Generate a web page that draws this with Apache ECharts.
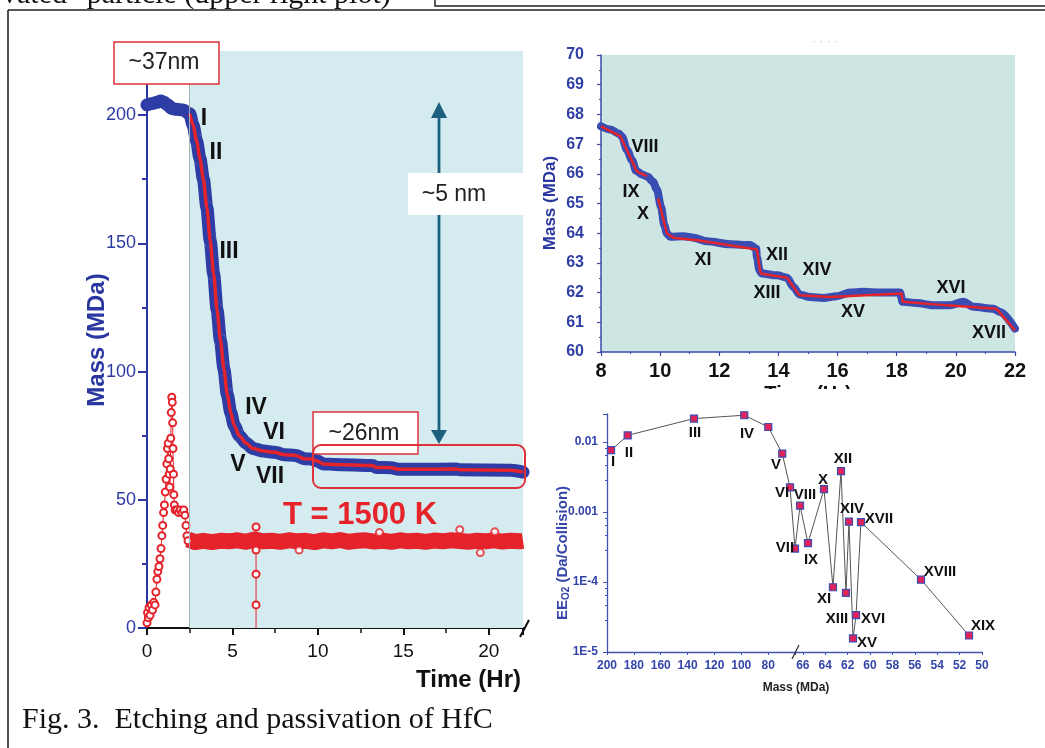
<!DOCTYPE html>
<html><head><meta charset="utf-8">
<script src="https://cdn.jsdelivr.net/npm/echarts@6/dist/echarts.min.js"></script>
<style>html,body{margin:0;padding:0;background:#fff}#c{width:1045px;height:748px}</style>
</head><body><div id="c"></div>
<script>
// ---------- DATA ----------
// Main panel: particle mass (MDa) vs time (Hr)
const mainTime = [0,0.3,0.6,0.8,1.0,1.2,1.45,1.7,2.1,2.5,2.7,2.9,3.1,3.3,3.5,3.7,3.9,4.1,4.3,4.5,4.7,4.9,5.1,5.4,5.8,6.2,6.8,7.5,8,8.7,9.2,9.6,10,10.3,11,13.2,13.4,14.3,14.7,16,18.1,18.3,21.3,22];
const mainMass = [204,204.5,205,205.5,205,204,202.6,202.3,202,200.5,196,190,183,175,164,151,138,124,112,101,91,84,79,75,72,70,69,68.5,67.6,67.3,66,65.9,65,64,63.8,63.4,62.6,62.5,61.9,61.9,62,61.7,61.5,60.8];
const fitStart = 2.5;
// Main panel: temperature trace (red circles), start-up ramp
const tempRiseTime = [0,0.03,0.08,0.12,0.18,0.25,0.32,0.4,0.47,0.52,0.58,0.63,0.7,0.76,0.82,0.87,0.92,0.97,1.02,1.07,1.12,1.16,1.2,1.24,1.27,1.3,1.33,1.36,1.39,1.42,1.45,1.48,1.5,1.52,1.55,1.57,1.6,1.65,1.75,1.85,1.95,2.05,2.15,2.22,2.28,2.34,2.4];
const tempRiseVal  = [2,6,4,8,5,9,7,10,9,14,19,22,24,27,31,36,40,45,48,53,58,64,70,72,66,60,55,62,74,84,90,88,80,70,60,52,48,46,46,45,46,45,46,44,40,36,34];
// Main panel: temperature plateau (T = 1500 K)
const tempBandTime = [2.4,2.8,3.3,3.8,4.3,4.8,5.3,5.8,6.3,6.8,7.3,7.8,8.3,8.8,9.3,9.8,10.3,10.8,11.3,11.8,12.3,12.8,13.3,13.8,14.3,14.8,15.3,15.8,16.3,16.8,17.3,17.8,18.3,18.8,19.3,19.8,20.3,20.8,21.3,21.8,22];
const tempBandVal  = [34.5,33.5,34,33.5,34,33.8,34.2,33.6,34.5,33.8,34,33.6,34.2,33.8,34,33.5,34.2,33.8,34.3,33.6,34,34.2,33.7,34,33.6,34.2,33.8,34,33.6,34.1,33.8,34.2,33.9,33.6,34,33.8,34.2,33.7,34,33.8,34];
const spikeTime = [6.38,6.38,6.38,6.38,6.38];
const spikeVal  = [39.4,30.4,21,9,0];
const outlierTime = [8.9,13.6,18.3,19.5,20.35];
const outlierVal  = [30.4,37.2,38.3,29.4,37.5];
// Upper-right inset: mass 8-22 Hr (blue data, red fit)
const insetTime = [8.0,8.32,8.6,8.71,8.88,9.05,9.19,9.39,9.58,9.76,9.89,10.03,10.14,10.23,10.34,10.79,11.13,11.58,12.37,13.05,13.25,13.27,13.36,13.44,13.95,14.29,14.51,14.71,15.07,15.52,15.97,16.42,16.87,17.44,18.11,18.2,18.68,19.24,19.8,20.25,20.59,21.26,21.49,22];
const insetMass = [67.6,67.49,67.36,67.25,66.8,66.46,66.1,65.98,65.9,65.73,65.47,64.89,64.27,63.99,63.88,63.9,63.85,63.73,63.63,63.6,63.48,63.2,62.75,62.64,62.58,62.5,62.19,61.94,61.85,61.82,61.88,62.0,62.03,62.0,62.0,61.69,61.65,61.57,61.57,61.69,61.52,61.46,61.35,60.79];
const fitTime = [8.0,8.65,9.22,9.55,null,9.93,10.23,10.45,11.25,13.27,13.38,13.4,14.29,14.71,15.75,18.17,18.2,19.7,21.37,22];
const fitMass = [67.6,67.27,66.07,65.92,null,65.17,63.99,63.85,63.76,63.45,62.75,62.64,62.5,61.91,61.85,61.97,61.69,61.57,61.46,60.73];
// Lower-right inset: EE_O2 vs mass (broken mass axis)
const effMassL = [197,184.6,135.2,97.8,79.9,69.5,63.7,60];
const effValL  = [0.0076,0.0124,0.0215,0.024,0.0163,0.0068,0.00224,0.0003];
const effMassR = [66.7,66.25,65.54,64.11,63.31,62.59,62.15,61.88,61.52,61.25,60.81,55.45,51.16];
const effValR  = [0.0003,0.00123,0.000358,0.00212,8.4e-5,0.00383,6.97e-5,0.000728,1.56e-5,3.35e-5,0.000713,1.08e-4,1.72e-5];

// Annotation text (label, x px, y px)
const mainRoman = [['I',204,119],['II',216,153],['III',229,252],['IV',256,408],['VI',274,433],['V',238,465],['VII',270,477]];
const insetRoman = [['VIII',645,147],['IX',631,192],['X',643,214],['XI',703,260],['XII',777,255],['XIII',767,293],['XIV',817,270],['XV',853,312],['XVI',951,288],['XVII',989,333]];
const effRoman = [['I',613,462],['II',629,453],['III',695,433],['IV',747,434],['V',776,465],['VI',782,493],['VIII',805,495],['VII',785,548],['IX',811,560],['X',823,480],['XI',824,599],['XII',843,459],['XIII',837,619],['XIV',852,509],['XVII',879,519],['XVI',873,619],['XV',867,643],['XVIII',940,572],['XIX',983,626]];

// ---------- BUILD ----------
const zip = (a,b)=>a.map((v,i)=> v===null ? [null,null] : [v,b[i]]);
const FF = '"Liberation Sans", Arial, sans-serif';
const SERIF = '"Liberation Serif", "Times New Roman", serif';
const RED = '#e5232b';
const BLUE = '#2e3ca6';
const AXB = '#2b37a0';

const mainData = zip(mainTime, mainMass);
const fitData = mainData.filter(p => p[0] >= fitStart);
const effRData = zip(effMassR, effValR).map((p,i)=> i===0 ? {value:p, symbol:'none'} : p);

function txt(t,x,y,size,weight,color,extra){
  return Object.assign({type:'text', x:x, y:y, z:100, silent:true,
    style:{text:t, fontSize:size, fontWeight:weight||'normal', fontFamily:FF, fill:color||'#111', align:'center', verticalAlign:'middle'}}, extra||{});
}
const graphics = [];
// page frame
graphics.push({type:'line', z:100, shape:{x1:8,y1:10,x2:1045,y2:10}, style:{stroke:'#222', lineWidth:1.6}});
graphics.push({type:'line', z:100, shape:{x1:8,y1:10,x2:8,y2:748}, style:{stroke:'#222', lineWidth:1.6}});
graphics.push({type:'rect', z:100, shape:{x:435,y:-10,width:640,height:16}, style:{stroke:'#222', lineWidth:1.5, fill:'none'}});
graphics.push({type:'text', x:2, y:-5, z:100, style:{text:'vated" particle (upper right plot)', fontSize:30, fontFamily:SERIF, fill:'#111', align:'left', verticalAlign:'middle'}});
graphics.push({type:'text', x:22, y:720, z:100, style:{text:'Fig. 3.  Etching and passivation of HfC', fontSize:30, fontFamily:SERIF, fill:'#111', align:'left', verticalAlign:'middle'}});
// main panel annotations
graphics.push({type:'line', z:99, shape:{x1:439,y1:112,x2:439,y2:434}, style:{stroke:'#1d5f7e', lineWidth:2.8}});
graphics.push({type:'polygon', z:99, shape:{points:[[439,102],[431,118],[447,118]]}, style:{fill:'#1d5f7e'}});
graphics.push({type:'polygon', z:99, shape:{points:[[439,444],[431,430],[447,430]]}, style:{fill:'#1d5f7e'}});
graphics.push({type:'rect', z:100, shape:{x:408,y:173,width:117,height:42}, style:{fill:'#fff', stroke:'none'}});
graphics.push(txt('~5 nm',454,195,23,'normal','#222'));
graphics.push({type:'rect', z:100, shape:{x:114,y:42,width:105,height:42}, style:{fill:'#fff', stroke:'#e0303a', lineWidth:1.5}});
graphics.push(txt('~37nm',164,63,23,'normal','#222'));
graphics.push({type:'rect', z:100, shape:{x:313,y:412,width:105,height:42}, style:{fill:'#fff', stroke:'#e0303a', lineWidth:1.5}});
graphics.push(txt('~26nm',364,434,23,'normal','#222'));
graphics.push({type:'rect', z:101, shape:{x:313,y:445,width:212,height:43,r:8}, style:{fill:'none', stroke:'#e0303a', lineWidth:2}});
graphics.push(txt('T = 1500 K',360,515,31,'bold',RED));
graphics.push({type:'line', z:100, shape:{x1:520,y1:637,x2:529,y2:620}, style:{stroke:'#111', lineWidth:2}});
graphics.push(txt('Mass (MDa)',97,340,24,'bold',AXB,{rotation:Math.PI/2}));
graphics.push({type:'text', x:521, y:680, z:100, style:{text:'Time (Hr)', fontSize:24, fontWeight:'bold', fontFamily:FF, fill:'#111', align:'right', verticalAlign:'middle'}});
mainRoman.forEach(r=>graphics.push(txt(r[0],r[1],r[2],23,'bold','#111')));
// upper inset annotations
insetRoman.forEach(r=>graphics.push(txt(r[0],r[1],r[2],18,'bold','#111')));
graphics.push(txt('Mass (MDa)',550,203,17,'bold',AXB,{rotation:Math.PI/2}));
graphics.push(txt('Time (Hr)',808,394,20,'bold','#111'));
graphics.push({type:'rect', z:101, shape:{x:740,y:389,width:140,height:16}, style:{fill:'#fff', stroke:'none'}});
graphics.push(txt('· · · ·',825,42,12,'normal','#c8cfcf'));
// lower inset annotations
effRoman.forEach(r=>graphics.push(txt(r[0],r[1],r[2],15,'bold','#111')));
graphics.push(txt('Mass (MDa)',796,688,12,'bold','#222'));
graphics.push({type:'text', x:563, y:553, z:100, rotation:Math.PI/2, silent:true,
  style:{text:'{a|EE}{s|O2}{a| (Da/Collision)}', align:'center', verticalAlign:'middle',
    rich:{a:{fontSize:15, fontWeight:'bold', fontFamily:FF, fill:'#3344aa'}, s:{fontSize:10, fontWeight:'bold', fontFamily:FF, fill:'#3344aa', verticalAlign:'bottom', padding:[6,0,0,0]}}}});
graphics.push({type:'line', z:100, shape:{x1:792,y1:659,x2:799,y2:645}, style:{stroke:'#333', lineWidth:1.3}});

const logFmt = v => {
  if (Math.abs(v-0.01)<1e-12) return '0.01';
  if (Math.abs(v-0.001)<1e-13) return '0.001';
  if (Math.abs(v-1e-4)<1e-14) return '1E-4';
  if (Math.abs(v-1e-5)<1e-15) return '1E-5';
  return '';
};
const effAx = '#4354b0';

const option = {
  backgroundColor:'#fff',
  animation:false,
  grid:[
    {left:147, top:51, width:376, height:577},
    {left:601, top:55, width:414, height:297, show:true, backgroundColor:'#cde5e3', borderWidth:0},
    {left:607, top:414, width:188, height:238},
    {left:795, top:414, width:187, height:238}
  ],
  xAxis:[
    {gridIndex:0, type:'value', min:0, max:22, interval:5,
     axisLine:{show:true, onZero:false, lineStyle:{color:'#111', width:2}},
     axisTick:{show:true, length:7, lineStyle:{color:'#111', width:2}},
     minorTick:{show:true, splitNumber:2, length:5, lineStyle:{color:'#111', width:1.5}},
     splitLine:{show:false}, minorSplitLine:{show:false},
     axisLabel:{fontSize:19, color:'#111', margin:14, fontFamily:FF, formatter:v=> v%5===0 ? String(v) : ''}},
    {gridIndex:1, type:'value', min:8, max:22, interval:2,
     axisLine:{show:true, onZero:false, lineStyle:{color:'#3a4aa8', width:1.5}},
     axisTick:{show:true, length:4, lineStyle:{color:'#3a4aa8', width:1.2}},
     minorTick:{show:true, splitNumber:2, length:2, lineStyle:{color:'#3a4aa8'}},
     splitLine:{show:false},
     axisLabel:{fontSize:20, fontWeight:'bold', color:'#111', margin:9, fontFamily:FF}},
    {gridIndex:2, type:'value', min:60, max:200, interval:20, inverse:true,
     axisLine:{show:true, onZero:false, lineStyle:{color:effAx, width:1.3}},
     axisTick:{show:true, length:3, lineStyle:{color:effAx}},
     splitLine:{show:false},
     axisLabel:{fontSize:12, fontWeight:'bold', color:'#3344aa', margin:8, fontFamily:FF, formatter:v=> v===60 ? '' : String(v)}},
    {gridIndex:3, type:'value', min:50, max:66.7, interval:2, inverse:true,
     axisLine:{show:true, onZero:false, lineStyle:{color:effAx, width:1.3}},
     axisTick:{show:true, length:3, lineStyle:{color:effAx}},
     splitLine:{show:false},
     axisLabel:{fontSize:12, fontWeight:'bold', color:'#3344aa', margin:8, fontFamily:FF, formatter:v=> Math.abs(v%2)<1e-9 ? String(v) : ''}}
  ],
  yAxis:[
    {gridIndex:0, type:'value', min:0, max:225, interval:50,
     axisLine:{show:true, onZero:false, lineStyle:{color:AXB, width:2}},
     axisTick:{show:true, length:9, lineStyle:{color:AXB, width:2}},
     minorTick:{show:true, splitNumber:2, length:5, lineStyle:{color:AXB, width:2}},
     splitLine:{show:false}, minorSplitLine:{show:false},
     axisLabel:{fontSize:18, color:'#2d3aa0', margin:11, fontFamily:FF, formatter:v=> v%50===0 ? String(v) : ''}},
    {gridIndex:1, type:'value', min:60, max:70, interval:1,
     axisLine:{show:true, onZero:false, lineStyle:{color:'#3a4aa8', width:1.5}},
     axisTick:{show:true, length:4, lineStyle:{color:'#3a4aa8', width:1.2}},
     minorTick:{show:true, splitNumber:2, length:2, lineStyle:{color:'#3a4aa8'}},
     splitLine:{show:false},
     axisLabel:{fontSize:16, fontWeight:'bold', color:'#2f3fa6', margin:17, fontFamily:FF}},
    {gridIndex:2, type:'log', logBase:10, min:1e-5, max:0.025,
     axisLine:{show:true, onZero:false, lineStyle:{color:effAx, width:1.3}},
     axisTick:{show:true, length:4, lineStyle:{color:effAx}},
     minorTick:{show:true, splitNumber:5, length:2, lineStyle:{color:effAx}},
     splitLine:{show:false}, minorSplitLine:{show:false},
     axisLabel:{fontSize:12, fontWeight:'bold', color:'#3344aa', margin:9, fontFamily:FF, formatter:logFmt}},
    {gridIndex:3, type:'log', logBase:10, min:1e-5, max:0.025, show:false}
  ],
  graphic:{elements:graphics},
  series:[
    {type:'line', xAxisIndex:0, yAxisIndex:0, z:1, data:[[fitStart,0]], symbol:'none', lineStyle:{opacity:0}, silent:true,
     markArea:{silent:true, itemStyle:{color:'#d4ecf0', borderWidth:0}, data:[[{coord:[fitStart,0]},{coord:[22,225]}]]},
     markLine:{silent:true, symbol:['none','none'], label:{show:false}, lineStyle:{color:'#a4b0b4', width:1, type:'solid'}, data:[{xAxis:fitStart}]}},
    {type:'line', xAxisIndex:0, yAxisIndex:0, z:2, data:zip(tempBandTime,tempBandVal), symbol:'none', lineStyle:{color:RED, width:16, join:'round'}},
    {type:'line', xAxisIndex:0, yAxisIndex:0, z:2, data:zip(tempRiseTime,tempRiseVal), symbol:'emptyCircle', symbolSize:7, showSymbol:true, lineStyle:{color:RED, width:1}, itemStyle:{color:RED, borderColor:RED, borderWidth:1}},
    {type:'line', xAxisIndex:0, yAxisIndex:0, z:2, data:zip(spikeTime,spikeVal).map((p,i,a)=> i===a.length-1 ? {value:p, symbol:'none'} : p), symbol:'emptyCircle', symbolSize:7, lineStyle:{color:RED, width:1}, itemStyle:{color:RED, borderColor:RED}},
    {type:'scatter', xAxisIndex:0, yAxisIndex:0, z:2, data:zip(outlierTime,outlierVal), symbol:'emptyCircle', symbolSize:7, itemStyle:{color:RED, borderColor:RED}},
    {type:'line', xAxisIndex:0, yAxisIndex:0, z:3, data:mainData, symbol:'none', smooth:0.25, smoothMonotone:'x', lineStyle:{color:BLUE, width:13, cap:'round', join:'round'}},
    {type:'line', xAxisIndex:0, yAxisIndex:0, z:4, data:fitData, symbol:'none', smooth:0.25, smoothMonotone:'x', lineStyle:{color:RED, width:3.5}},
    {type:'line', xAxisIndex:1, yAxisIndex:1, z:3, data:zip(insetTime,insetMass), symbol:'none', smooth:0.3, smoothMonotone:'x', lineStyle:{color:'#3a4db2', width:8, cap:'round', join:'round'}},
    {type:'line', xAxisIndex:1, yAxisIndex:1, z:4, data:zip(fitTime,fitMass), symbol:'none', connectNulls:false, lineStyle:{color:RED, width:2.5}},
    {type:'line', xAxisIndex:2, yAxisIndex:2, z:5, clip:false, data:zip(effMassL,effValL), symbol:'rect', symbolSize:7, lineStyle:{color:'#555', width:1}, itemStyle:{color:'#e0245a', borderColor:'#3c4cb0', borderWidth:1.2}},
    {type:'line', xAxisIndex:3, yAxisIndex:3, z:5, clip:false, data:effRData, symbol:'rect', symbolSize:7, lineStyle:{color:'#555', width:1}, itemStyle:{color:'#e0245a', borderColor:'#3c4cb0', borderWidth:1.2}}
  ]
};
const chart = echarts.init(document.getElementById('c'), null, {renderer:'canvas'});
chart.setOption(option);
</script></body></html>
